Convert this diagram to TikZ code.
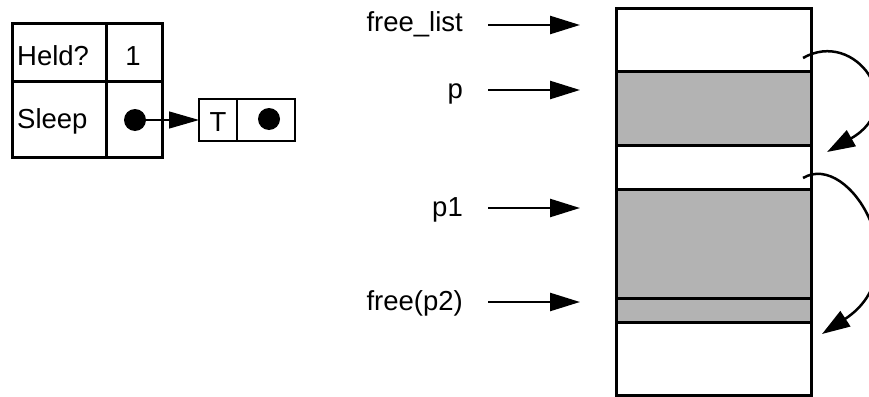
\documentclass[tikz,border=0pt]{standalone}
\usepackage{fontspec}
\setmainfont{Liberation Sans}
\usetikzlibrary{arrows.meta}
\definecolor{blockgray}{RGB}{179,179,179}
\begin{document}
\begin{tikzpicture}[x=1pt,y=-1pt,
  tcell/.style 2 args={draw,line width=3pt,minimum width=#1pt,minimum height=#2pt,inner sep=0pt,outer sep=0pt,anchor=north west},
  scell/.style 2 args={draw,line width=2.4pt,minimum width=#1pt,minimum height=#2pt,inner sep=0pt,outer sep=0pt,anchor=north west},
  mblock/.style={draw,line width=3pt,minimum width=195pt,minimum height=#1pt,inner sep=0pt,outer sep=0pt,anchor=north west},
  txt/.style={inner sep=0pt,font=\fontsize{27.5}{32}\selectfont},
  dotnode/.style={circle,fill=black,minimum size=22pt,inner sep=0pt},
  ptr/.style={line width=2.5pt,-{Triangle[length=30pt,width=18pt]}},
  curv/.style={line width=2.5pt,-{Triangle[length=28pt,width=18pt]}}
]
\useasboundingbox (0,0) rectangle (869,396);

% lock table
\node[tcell={94}{57}] (held) at (12,24) {};
\node[tcell={56}{57}] (heldv) at (106,24) {};
\node[tcell={94}{76}] (sleep) at (12,81) {};
\node[tcell={56}{76}] (sleepv) at (106,81) {};
\node[txt,anchor=base west] (heldt) at (17,65) {Held?};
\node[txt,anchor=base] (onet) at (133,65) {1};
\node[txt,anchor=base west] (sleept) at (17,128) {Sleep};
\node[dotnode] (d1) at (135,120) {};

% queue element
\node[scell={38}{42}] (tb1) at (199,99) {};
\node[scell={58}{42}] (tb2) at (237,99) {};
\node[txt,anchor=base] (tt) at (218,131) {T};
\node[dotnode] (d2) at (269,119) {};
\draw[line width=1.2pt,-{Triangle[length=30pt,width=17pt]}] (d1.east) -- (tb1.west);

% memory column
\node[mblock=62] (b1) at (616,9) {};
\node[mblock=74,fill=blockgray] (b2) at (616,71) {};
\node[mblock=44] (b3) at (616,145) {};
\node[mblock=109,fill=blockgray] (b4) at (616,189) {};
\node[mblock=24,fill=blockgray] (b5) at (616,298) {};
\node[mblock=73] (b6) at (616,322) {};

% pointer labels
\node[txt,anchor=base east] (lfree) at (463,32) {free\_list};
\node[txt,anchor=base east] (lp) at (463,98) {p};
\node[txt,anchor=base east] (lp1) at (463,216) {p1};
\node[txt,anchor=base east] (lp2) at (463,310) {free(p2)};
\coordinate (s1) at (488,25); \coordinate (e1) at (580,25);
\coordinate (s2) at (488,90); \coordinate (e2) at (580,90);
\coordinate (s3) at (488,208); \coordinate (e3) at (580,208);
\coordinate (s4) at (488,302); \coordinate (e4) at (580,302);
\draw[ptr] (s1) -- (e1);
\draw[ptr] (s2) -- (e2);
\draw[ptr] (s3) -- (e3);
\draw[ptr] (s4) -- (e4);

% free-list links
\coordinate (c1s) at (803,58); \coordinate (c1e) at (827,152);
\coordinate (c2s) at (803,178); \coordinate (c2e) at (822,334);
\draw[curv] (c1s) .. controls (855,28) and (910,105) .. (c1e);
\draw[curv] (c2s) .. controls (850,150) and (920,270) .. (c2e);
\end{tikzpicture}
\end{document}
